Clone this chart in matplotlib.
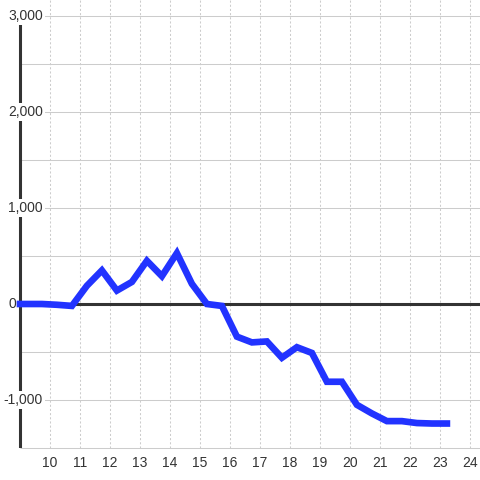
import matplotlib
matplotlib.use("Agg")
import matplotlib.pyplot as plt

plt.rcParams['font.family'] = ['Liberation Sans', 'DejaVu Sans']

# data
x_vals = [9.0, 9.73, 10.23, 10.73, 11.23, 11.73, 12.23, 12.73, 13.23, 13.73,
          14.23, 14.73, 15.23, 15.73, 16.23, 16.73, 17.23, 17.73, 18.23, 18.73,
          19.23, 19.73, 20.23, 20.73, 21.23, 21.73, 22.23, 22.73, 23.23]
y_vals = [0, 0, -8, -20, 190, 350, 140, 230, 450, 290,
          530, 210, 0, -20, -340, -400, -390, -560, -450, -510,
          -810, -810, -1050, -1140, -1220, -1220, -1240, -1245, -1245]

x_ticks = list(range(10, 25))
grid_levels = [-1500, -1000, -500, 0, 500, 1000, 1500, 2000, 2500, 3000]
y_label_vals = [3000, 2000, 1000, 0, -1000]
y_label_txt = ['3,000', '2,000', '1,000', '0', '-1,000']

txt_col = '#333333'
x_left, x_right = 9 - 20 / 30, 9 + 460 / 30

fig = plt.figure(figsize=(4.8, 4.8), dpi=100)
ax = fig.add_axes([0, 32 / 480, 1, 448 / 480])
ax.set_xlim(x_left, x_right)
ax.set_ylim(-1500, 3000 + 16 * 1000 / 96)
for s in ax.spines.values():
    s.set_visible(False)

# grid
ax.set_xticks(x_ticks)
ax.set_yticks([])
ax.grid(axis='x', color='#cccccc', linewidth=0.75, linestyle=(0, (2, 2)), zorder=0)
ax.hlines(grid_levels, 9, x_right, colors='#cccccc', linewidth=0.75, zorder=0.5, clip_on=False)
ax.tick_params(axis='x', length=0, pad=6, labelsize=10, labelcolor=txt_col)

# axis line and zero line
ax.vlines(9, -1500, 3000, colors=txt_col, linewidth=2.2, zorder=2)
ax.hlines(0, 9, x_right, colors=txt_col, linewidth=2.2, zorder=2)

# y labels with white boxes over the axis line
ytr = ax.get_yaxis_transform()
for v, s in zip(y_label_vals, y_label_txt):
    xr = 16 / 480 if v == 0 else 43 / 480
    ax.text(xr, v, s, transform=ytr, ha='right', va='center', fontsize=10,
            color=txt_col, zorder=3,
            bbox=dict(facecolor='white', edgecolor='none', pad=1.5))

ax.plot(x_vals, y_vals, color='#2233ff', linewidth=4.8,
        solid_capstyle='projecting', solid_joinstyle='miter', zorder=4)

fig.savefig('out.png', dpi=100)
